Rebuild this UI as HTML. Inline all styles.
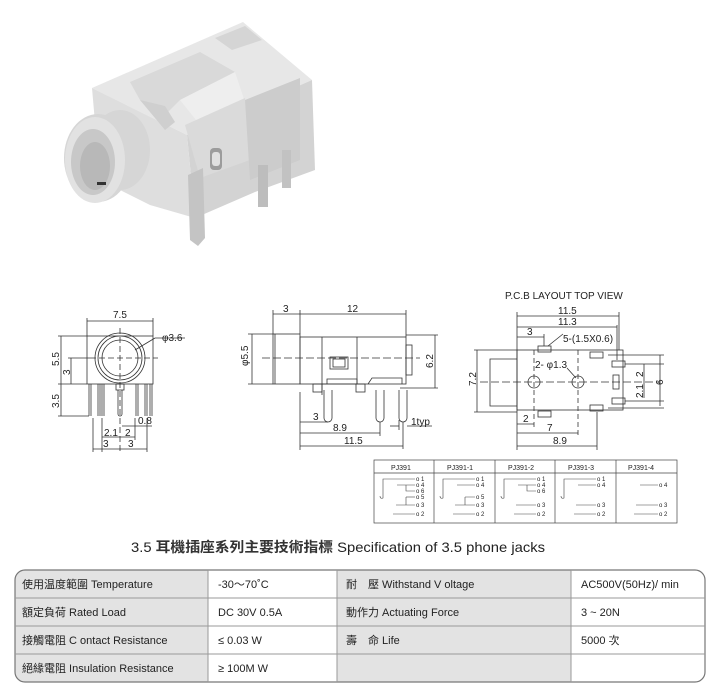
<!DOCTYPE html>
<html><head><meta charset="utf-8"><style>
html,body{margin:0;padding:0;background:#fff}
svg{display:block}
text{font-family:"Liberation Sans","Noto Sans CJK TC",sans-serif;fill:#222}
</style></head><body>
<svg width="718" height="688" viewBox="0 0 718 688" xmlns="http://www.w3.org/2000/svg">
<!-- PHOTO -->
<g stroke="none">
  <polygon points="92,88 243,22 312,80 187,135" fill="#e7e7e7"/>
  <polygon points="187,135 312,80 315,170 255,192 195,218" fill="#d3d3d3"/>
  <polygon points="92,88 187,135 195,218 150,205 100,180" fill="#dedede"/>
  <polygon points="130,82 200,52 235,72 180,100 160,120 140,100" fill="#d9d9d9"/>
  <polygon points="180,100 235,72 245,102 200,125" fill="#eeeeee"/>
  <polygon points="215,38 245,26 262,40 232,50" fill="#d5d5d5"/>
  <polygon points="140,100 165,106 175,122 165,130" fill="#cfcfcf"/>
  <polygon points="185,125 245,98 250,160 200,178" fill="#dadada"/>
  <polygon points="245,100 300,78 300,160 250,180" fill="#cccccc"/>
  <rect x="210" y="148" width="12" height="22" rx="4" fill="#9c9c9c"/>
  <rect x="212" y="152" width="8" height="14" rx="3" fill="#e0e0e0"/>
  <ellipse cx="98" cy="158" rx="34" ry="44" fill="#d6d6d6"/>
  <ellipse cx="120" cy="150" rx="30" ry="40" fill="#d6d6d6"/>
  <ellipse cx="95" cy="160" rx="30" ry="43" fill="#e2e2e2"/>
  <ellipse cx="93" cy="162" rx="22" ry="33" fill="#c8c8c8"/>
  <ellipse cx="95" cy="166" rx="15" ry="24" fill="#b8b8b8"/>
  <rect x="97" y="182" width="9" height="3" fill="#333"/>
  <polygon points="188,175 203,168 205,238 198,246 190,240" fill="#c4c4c4"/>
  <rect x="258" y="165" width="10" height="42" fill="#bdbdbd"/>
  <rect x="282" y="150" width="9" height="38" fill="#c2c2c2"/>
</g>

<!-- FRONT VIEW -->
<g fill="none" stroke="#333" stroke-width="0.8">
  <rect x="87" y="336" width="66" height="48"/>
  <circle cx="120" cy="358" r="25"/>
  <circle cx="120" cy="358" r="22"/>
  <circle cx="120" cy="358" r="18"/>
  <line x1="90" y1="358" x2="158" y2="358" stroke-dasharray="6,3"/>
  <line x1="120" y1="328" x2="120" y2="452" stroke-dasharray="6,3"/>
  <rect x="116" y="384" width="8" height="6"/>
  <line x1="118" y1="390" x2="118" y2="414"/><line x1="122" y1="390" x2="122" y2="414"/>
  <path d="M118,414 a2,2 0 0 0 4,0"/>
  <g>
    <line x1="89" y1="384" x2="89" y2="416"/><line x1="91" y1="384" x2="91" y2="416"/>
    <line x1="98" y1="384" x2="98" y2="416"/><line x1="100" y1="384" x2="100" y2="416"/>
    <line x1="102" y1="384" x2="102" y2="416"/><line x1="104" y1="384" x2="104" y2="416"/>
    <line x1="136" y1="384" x2="136" y2="416"/><line x1="138" y1="384" x2="138" y2="416"/>
    <line x1="145" y1="384" x2="145" y2="416"/><line x1="147" y1="384" x2="147" y2="416"/>
    <line x1="150" y1="384" x2="150" y2="416"/><line x1="152" y1="384" x2="152" y2="416"/>
  </g>
  <line x1="87" y1="321" x2="153" y2="321"/><line x1="87" y1="318" x2="87" y2="336"/><line x1="153" y1="318" x2="153" y2="336"/>
  <line x1="135" y1="350" x2="155" y2="338"/><line x1="155" y1="338" x2="185" y2="338"/>
  <line x1="58" y1="336" x2="87" y2="336"/><line x1="61" y1="336" x2="61" y2="384"/>
  <line x1="68" y1="358" x2="90" y2="358"/><line x1="71" y1="358" x2="71" y2="384"/>
  <line x1="58" y1="384" x2="87" y2="384"/><line x1="61" y1="384" x2="61" y2="416"/><line x1="58" y1="416" x2="89" y2="416"/>
  <line x1="102" y1="418" x2="102" y2="452"/><line x1="147" y1="418" x2="147" y2="452"/>
  <line x1="93" y1="418" x2="93" y2="452"/>
  <line x1="102" y1="437" x2="135" y2="437"/><line x1="135" y1="418" x2="135" y2="440"/>
  <line x1="122" y1="426" x2="152" y2="426"/>
  <line x1="93" y1="449" x2="147" y2="449"/>
</g>
<g font-size="10">
  <text x="113" y="318">7.5</text>
  <text x="162" y="341">φ3.6</text>
  <text x="138" y="424">0.8</text>
  <text x="104" y="436">2.1</text><text x="125" y="436">2</text>
  <text x="103" y="447">3</text><text x="128" y="447">3</text>
  <text transform="translate(59,366) rotate(-90)">5.5</text>
  <text transform="translate(70,375) rotate(-90)">3</text>
  <text transform="translate(59,408) rotate(-90)">3.5</text>
</g>

<!-- SIDE VIEW -->
<g fill="none" stroke="#333" stroke-width="0.8">
  <rect x="273" y="334" width="27" height="50"/>
  <line x1="275" y1="334" x2="275" y2="384"/>
  <rect x="300" y="337" width="106" height="47"/>
  <line x1="322" y1="337" x2="322" y2="395"/><line x1="357" y1="337" x2="357" y2="384"/>
  <rect x="330" y="357" width="18" height="12"/><rect x="333" y="359" width="12" height="8"/>
  <rect x="406" y="345" width="6" height="30"/>
  <line x1="262" y1="358" x2="420" y2="358" stroke-dasharray="8,3"/>
  <path d="M322,384 h35 v-5 h-30 v5"/>
  <rect x="313" y="384" width="9" height="8"/><rect x="356" y="384" width="9" height="8"/>
  <path d="M368,384 l4,-6 h30 v6"/>
  <path d="M324,390 v28 a4,4 0 0 0 8,0 v-28"/>
  <path d="M376,390 v28 a4,4 0 0 0 8,0 v-28"/>
  <path d="M399,390 v28 a4,4 0 0 0 8,0 v-28"/>
  <line x1="273" y1="310" x2="273" y2="334"/><line x1="300" y1="310" x2="300" y2="334"/><line x1="406" y1="310" x2="406" y2="337"/>
  <line x1="273" y1="314" x2="406" y2="314"/>
  <line x1="248" y1="334" x2="273" y2="334"/><line x1="248" y1="384" x2="273" y2="384"/><line x1="252" y1="334" x2="252" y2="384"/>
  <line x1="406" y1="335" x2="438" y2="335"/><line x1="400" y1="388" x2="438" y2="388"/><line x1="435" y1="335" x2="435" y2="388"/>
  <line x1="300" y1="392" x2="300" y2="450"/>
  <line x1="300" y1="422" x2="328" y2="422"/>
  <line x1="300" y1="433" x2="380" y2="433"/><line x1="380" y1="422" x2="380" y2="436"/>
  <line x1="300" y1="446" x2="403" y2="446"/><line x1="403" y1="422" x2="403" y2="449"/>
  <line x1="390" y1="426" x2="399" y2="426"/><line x1="407" y1="426" x2="432" y2="426"/><line x1="399" y1="420" x2="399" y2="430"/>
</g>
<g font-size="10">
  <text x="283" y="312">3</text><text x="347" y="312">12</text>
  <text x="313" y="420">3</text><text x="333" y="431">8.9</text><text x="344" y="444">11.5</text>
  <text x="411" y="425">1typ</text>
  <text transform="translate(248,366) rotate(-90)">φ5.5</text>
  <text transform="translate(433,368) rotate(-90)">6.2</text>
</g>

<!-- PCB LAYOUT -->
<text x="505" y="299" font-size="10">P.C.B LAYOUT   TOP VIEW</text>
<g fill="none" stroke="#333" stroke-width="0.8">
  <rect x="517" y="350" width="106" height="60"/>
  <path d="M517,359 h-27 v47 h27"/>
  <line x1="474" y1="350" x2="517" y2="350"/><line x1="474" y1="412" x2="517" y2="412"/><line x1="477" y1="350" x2="477" y2="412"/>
  <line x1="480" y1="382" x2="660" y2="382" stroke-dasharray="8,3"/>
  <line x1="534" y1="350" x2="534" y2="428" stroke-dasharray="5,3"/>
  <line x1="578" y1="350" x2="578" y2="437" stroke-dasharray="5,3"/>
  <circle cx="534" cy="382" r="6"/><circle cx="578" cy="382" r="6"/>
  <rect x="538" y="346" width="13" height="6"/><rect x="538" y="411" width="13" height="6"/>
  <rect x="590" y="352" width="13" height="6"/><rect x="590" y="405" width="13" height="6"/>
  <rect x="612" y="361" width="13" height="6"/><rect x="612" y="398" width="13" height="6"/>
  <rect x="613" y="375" width="6" height="14"/>
  <line x1="517" y1="312" x2="517" y2="450"/>
  <line x1="619" y1="312" x2="619" y2="350"/><line x1="617" y1="325" x2="617" y2="360"/>
  <line x1="517" y1="316" x2="619" y2="316"/><line x1="517" y1="327" x2="617" y2="327"/>
  <line x1="517" y1="337" x2="544" y2="337"/><line x1="544" y1="334" x2="544" y2="346"/>
  <line x1="548" y1="346" x2="563" y2="334"/>
  <line x1="567" y1="368" x2="576" y2="378"/>
  <line x1="517" y1="424" x2="534" y2="424"/>
  <line x1="517" y1="433" x2="578" y2="433"/>
  <line x1="517" y1="446" x2="597" y2="446"/><line x1="597" y1="412" x2="597" y2="450"/>
  <line x1="625" y1="364" x2="664" y2="364"/><line x1="625" y1="401" x2="664" y2="401"/><line x1="660" y1="355" x2="660" y2="406"/>
  <line x1="644" y1="364" x2="644" y2="398"/>
  <line x1="608" y1="355" x2="664" y2="355"/><line x1="608" y1="408" x2="664" y2="408"/>
</g>
<g font-size="10">
  <text x="558" y="314">11.5</text><text x="558" y="325">11.3</text>
  <text x="527" y="335">3</text>
  <text x="563" y="342">5-(1.5X0.6)</text>
  <text x="535" y="368">2- φ1.3</text>
  <text x="523" y="422">2</text><text x="547" y="431">7</text><text x="553" y="444">8.9</text>
  <text transform="translate(476,386) rotate(-90)">7.2</text>
  <text transform="translate(643,377) rotate(-90)">2</text>
  <text transform="translate(643,398) rotate(-90)">2.1</text>
  <text transform="translate(663,385) rotate(-90)">6</text>
</g>

<!-- SCHEMATIC TABLE -->
<g fill="none" stroke="#444" stroke-width="0.7">
  <rect x="374" y="460" width="303" height="63"/>
  <line x1="374" y1="473" x2="677" y2="473"/>
  <line x1="434" y1="460" x2="434" y2="523"/><line x1="495" y1="460" x2="495" y2="523"/>
  <line x1="555" y1="460" x2="555" y2="523"/><line x1="616" y1="460" x2="616" y2="523"/>
</g>
<g font-size="7">
  <text x="391" y="470">PJ391</text><text x="447" y="470">PJ391-1</text>
  <text x="508" y="470">PJ391-2</text><text x="568" y="470">PJ391-3</text><text x="628" y="470">PJ391-4</text>
</g>
<g fill="none" stroke="#444" stroke-width="0.6">
  <path d="M380,496 q0,3 3,2 v-19 h32"/><path d="M397,485 h18"/><path d="M406,485 v6 h9"/>
  <path d="M406,497 h9"/><path d="M406,497 v8"/><path d="M396,505 h19"/><path d="M393,514 h22"/>
  <path d="M440,496 q0,3 3,2 v-19 h32"/><path d="M457,485 h18"/>
  <path d="M465,497 h10 M465,497 v8"/><path d="M455,505 h20"/><path d="M453,514 h22"/>
  <path d="M501,496 q0,3 3,2 v-19 h32"/><path d="M518,485 h18"/><path d="M527,485 v6 h9"/>
  <path d="M516,505 h20"/><path d="M514,514 h22"/>
  <path d="M561,496 q0,3 3,2 v-19 h32"/><path d="M578,485 h18"/><path d="M576,505 h20"/><path d="M574,514 h22"/>
  <path d="M640,485 h18"/><path d="M636,505 h22"/><path d="M634,514 h24"/>
</g>
<g font-size="6">
  <text x="416" y="481">o 1</text><text x="416" y="487">o 4</text><text x="416" y="493">o 6</text><text x="416" y="499">o 5</text><text x="416" y="507">o 3</text><text x="416" y="516">o 2</text>
  <text x="476" y="481">o 1</text><text x="476" y="487">o 4</text><text x="476" y="499">o 5</text><text x="476" y="507">o 3</text><text x="476" y="516">o 2</text>
  <text x="537" y="481">o 1</text><text x="537" y="487">o 4</text><text x="537" y="493">o 6</text><text x="537" y="507">o 3</text><text x="537" y="516">o 2</text>
  <text x="597" y="481">o 1</text><text x="597" y="487">o 4</text><text x="597" y="507">o 3</text><text x="597" y="516">o 2</text>
  <text x="659" y="487">o 4</text><text x="659" y="507">o 3</text><text x="659" y="516">o 2</text>
</g>

<!-- TITLE -->
<text x="131" y="552" font-size="14" fill="#444" textLength="414" lengthAdjust="spacingAndGlyphs"><tspan>3.5 </tspan><tspan font-weight="bold" fill="#333">耳機插座系列主要技術指標</tspan><tspan> Specification of 3.5 phone jacks</tspan></text>

<!-- SPEC TABLE -->
<g>
  <rect x="15" y="570" width="690" height="112" rx="10" fill="#fff"/>
  <path d="M25,570 H208 V682 H25 a10,10 0 0 1 -10,-10 V580 a10,10 0 0 1 10,-10 Z" fill="#e3e3e3"/>
  <rect x="337" y="570" width="234" height="112" fill="#e3e3e3"/>
  <rect x="15" y="570" width="690" height="112" rx="10" fill="none" stroke="#777" stroke-width="1.2"/>
  <g stroke="#999" stroke-width="1">
    <line x1="15" y1="598" x2="705" y2="598"/><line x1="15" y1="626" x2="705" y2="626"/><line x1="15" y1="654" x2="705" y2="654"/>
    <line x1="208" y1="570" x2="208" y2="682"/><line x1="337" y1="570" x2="337" y2="682"/><line x1="571" y1="570" x2="571" y2="682"/>
  </g>
</g>
<g font-size="11">
  <text x="22" y="588">使用温度範圍 Temperature</text>
  <text x="22" y="616">額定負荷  Rated Load</text>
  <text x="22" y="644">接觸電阻  C ontact Resistance</text>
  <text x="22" y="672">絕緣電阻  Insulation Resistance</text>
  <text x="218" y="588">-30～70˚C</text>
  <text x="218" y="616">DC  30V  0.5A</text>
  <text x="218" y="644">≤ 0.03 W</text>
  <text x="218" y="672">≥ 100M W</text>
  <text x="346" y="588">耐　壓  Withstand V oltage</text>
  <text x="346" y="616">動作力  Actuating Force</text>
  <text x="346" y="644">壽　命  Life</text>
  <text x="581" y="588">AC500V(50Hz)/ min</text>
  <text x="581" y="616">3 ~ 20N</text>
  <text x="581" y="644">5000 次</text>
</g>
</svg>
</body></html>
